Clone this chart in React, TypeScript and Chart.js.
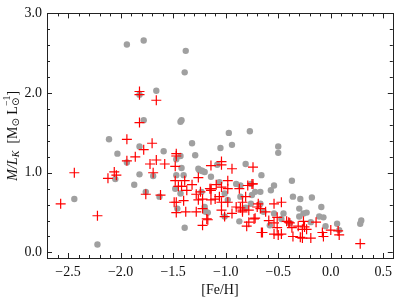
import React, { useEffect, useRef } from "react";
import { Chart, registerables } from "chart.js";

Chart.register(...registerables);

const grayX = [-1.94,-1.78,-1.38,-1.39,-1.66,-1.82,-1.78,-1.42,-1.43,-2.11,-1.82,-1.32,-1.59,-2.03,-0.97,-0.77,-1.05,-0.94,-0.50,-0.50,-1.29,-1.94,-1.82,-1.87,-2.05,-1.76,-1.69,-1.63,-2.44,-2.22,-1.39,-1.47,-1.43,-1.42,-1.47,-1.40,-1.43,-1.46,-1.23,-1.14,-1.20,-1.17,-0.81,-0.66,-0.37,-0.54,-0.57,-0.36,-0.18,-0.29,-0.09,-0.26,-0.11,-0.07,0.06,0.08,0.29,0.28,-0.19,-0.05,-1.06,-0.90,-0.86,-0.72,-0.67,-0.86,-0.98,-0.76,-0.67,-0.54,-0.45,-0.64,-0.87,-1.01,-1.25,-1.22,-1.08,-1.48,-1.23,-1.19,-0.76,-0.75,-1.01,-0.47,-0.58,-0.81,-0.30,-0.23,-0.30,-0.39,-1.26,-1.20];
const grayY = [2.61,2.66,2.53,2.26,2.03,1.98,1.66,1.66,1.64,1.42,1.33,1.37,1.27,1.24,1.50,1.52,1.31,1.35,1.33,1.25,1.22,1.13,0.98,0.85,0.92,0.76,0.96,0.70,0.67,0.10,0.31,1.17,1.21,1.06,0.97,0.97,0.74,0.55,1.03,0.95,0.57,0.50,1.11,0.97,0.90,0.84,0.78,0.70,0.69,0.67,0.57,0.49,0.45,0.44,0.36,0.28,0.40,0.36,0.38,0.33,0.88,0.86,0.84,0.76,0.76,0.70,0.66,0.61,0.61,0.49,0.49,0.51,0.39,0.45,1.03,1.02,1.10,0.80,0.76,0.51,0.86,0.72,0.74,0.42,0.34,0.56,0.55,0.50,0.45,0.37,1.05,1.01];

const redX = [-1.82,-1.82,-1.66,-1.82,-1.94,-1.70,-1.78,-1.47,-1.47,-1.94,-1.86,-1.66,-1.72,-1.58,-1.48,-2.44,-2.06,-2.04,-2.12,-1.69,-1.26,-1.14,-1.48,-1.39,-1.45,-1.42,-1.32,-1.37,-1.09,-1.28,-1.24,-1.14,-1.76,-1.62,-2.57,-1.49,-1.47,-1.40,-1.26,-1.22,-1.14,-1.47,-1.38,-1.28,-1.22,-1.17,-1.22,-2.22,-1.04,-0.94,-0.74,-0.98,-1.14,-1.04,-0.79,-0.74,-1.06,-1.04,-0.90,-0.86,-0.78,-0.70,-0.54,-0.47,-1.04,-0.94,-0.84,-0.62,-0.51,-1.18,-0.78,-0.80,-0.72,-0.65,-0.54,-0.51,-0.54,-0.50,-0.39,-0.36,-0.37,-0.26,-0.27,-0.25,-0.29,-0.19,-0.14,-0.07,0.00,0.08,0.28,-1.15,-1.10,-1.04,-0.75,-0.98,-0.87,-0.81,-0.98,-0.69,-0.84,-0.84,-0.67,-1.01,-0.73,-0.59,-0.42,-0.66,-0.47,-0.40,-0.31,-0.23,-0.27,-0.08,0.07];
const redY = [2.02,1.98,1.91,1.63,1.42,1.37,1.29,1.24,1.21,1.15,1.20,1.16,1.11,1.11,1.08,1.00,1.01,0.97,0.93,1.00,0.94,1.09,0.90,0.90,0.83,0.83,0.85,0.78,0.85,0.73,0.76,0.78,0.73,0.72,0.61,0.63,0.63,0.65,0.66,0.67,0.66,0.50,0.51,0.51,0.55,0.41,0.34,0.46,1.14,1.05,1.07,0.90,0.80,0.82,0.84,0.86,0.70,0.63,0.57,0.56,0.53,0.57,0.61,0.63,0.53,0.49,0.51,0.51,0.44,0.42,0.38,0.33,0.43,0.25,0.37,0.31,0.23,0.22,0.37,0.20,0.31,0.39,0.29,0.32,0.19,0.18,0.38,0.20,0.28,0.22,0.11,0.80,0.67,1.10,0.86,0.80,0.80,0.70,0.63,0.61,0.63,0.53,0.55,0.45,0.42,0.40,0.39,0.25,0.23,0.38,0.33,0.29,0.18,0.25,0.27];

const xTicks = [-2.5, -2.0, -1.5, -1.0, -0.5, 0.0, 0.5];
const yTicks = [0.0, 1.0, 2.0, 3.0];

const FONT = "Liberation Serif";

const fmt = (v: number) => (v < -1e-9 ? "\u2212" + Math.abs(v).toFixed(1) : Math.abs(v).toFixed(1));

const framePlugin = {
  id: "frame",
  afterDraw(chart: any) {
    const { ctx, chartArea: a, scales } = chart;
    const xs = scales.x, ys = scales.y;
    ctx.save();
    ctx.strokeStyle = "#222";
    ctx.lineWidth = 1;
    ctx.strokeRect(Math.round(a.left) + 0.5, Math.round(a.top) + 0.5, Math.round(a.right - a.left), Math.round(a.bottom - a.top));
    ctx.beginPath();
    for (let i = -27; i <= 5; i++) {
      const v = i / 10;
      const px = Math.round(xs.getPixelForValue(v)) + 0.5;
      const major = i % 5 === 0;
      const len = major ? 5 : 3;
      ctx.moveTo(px, a.bottom); ctx.lineTo(px, a.bottom - len);
      ctx.moveTo(px, a.top); ctx.lineTo(px, a.top + len);
    }
    for (let i = 0; i <= 15; i++) {
      const v = i / 5;
      const py = Math.round(ys.getPixelForValue(v)) + 0.5;
      const major = i % 5 === 0;
      const len = major ? 5 : 3;
      ctx.moveTo(a.left, py); ctx.lineTo(a.left + len, py);
      ctx.moveTo(a.right, py); ctx.lineTo(a.right - len, py);
    }
    ctx.stroke();

    // x title
    ctx.fillStyle = "#111";
    ctx.font = `14px "${FONT}"`;
    ctx.textAlign = "center";
    ctx.textBaseline = "alphabetic";
    ctx.fillText("[Fe/H]", (a.left + a.right) / 2, 294);

    // y title
    const segs = [
      { t: "M/L", f: `italic 14px "${FONT}"`, dy: 0 },
      { t: "K", f: `italic 10px "${FONT}"`, dy: 3 },
      { t: "  [M", f: `14px "${FONT}"`, dy: 0 },
      { t: "\u2299", f: `10px "DejaVu Sans"`, dy: 3 },
      { t: " L", f: `14px "${FONT}"`, dy: 0 },
      { t: "\u2299", f: `10px "DejaVu Sans"`, dy: 3 },
      { t: "\u22121", f: `10px "${FONT}"`, dy: -6 },
      { t: "]", f: `14px "${FONT}"`, dy: 0 },
    ];
    ctx.textBaseline = "middle";
    let total = 0;
    const widths = segs.map((s) => { ctx.font = s.f; return ctx.measureText(s.t).width; });
    segs.forEach((s, i) => { if (i !== 5) total += widths[i]; });
    ctx.translate(13, (a.top + a.bottom) / 2);
    ctx.rotate(-Math.PI / 2);
    ctx.textAlign = "left";
    let x = -total / 2;
    segs.forEach((s, i) => {
      ctx.font = s.f;
      ctx.fillText(s.t, x, s.dy);
      if (i !== 5) x += widths[i];
    });
    ctx.restore();
  },
};

export default function App() {
  const ref = useRef<HTMLCanvasElement>(null);
  useEffect(() => {
    document.body.style.margin = "0";
    const red = redX.map((x, i) => ({ x, y: redY[i] }));
    const gray = grayX.map((x, i) => ({ x, y: grayY[i] }));
    const chart = new Chart(ref.current!, {
      type: "scatter",
      data: {
        datasets: [
          { label: "red", data: red, pointStyle: "cross", radius: 5, borderColor: "rgb(255,0,0)", borderWidth: 1.2, backgroundColor: "rgb(255,0,0)" },
          { label: "gray", data: gray, pointStyle: "circle", radius: 3.2, backgroundColor: "rgb(160,160,160)", borderWidth: 0 },
        ],
      },
      options: {
        animation: false,
        responsive: false,
        events: [],
        layout: { padding: { top: 5, right: 1, left: 0, bottom: 0 } },
        plugins: { legend: { display: false }, tooltip: { enabled: false } },
        scales: {
          x: {
            type: "linear",
            min: -2.7,
            max: 0.59,
            grid: { display: false, drawTicks: false },
            border: { display: false },
            afterBuildTicks: (s: any) => { s.ticks = xTicks.map((v) => ({ value: v })); },
            afterFit: (s: any) => { s.height = 41; },
            ticks: { padding: 6, color: "#111", font: { family: FONT, size: 14 }, maxRotation: 0, callback: (v: any) => fmt(Number(v)) },
          },
          y: {
            type: "linear",
            min: -0.07,
            max: 3.0,
            grid: { display: false, drawTicks: false },
            border: { display: false },
            afterBuildTicks: (s: any) => { s.ticks = yTicks.map((v) => ({ value: v })); },
            afterFit: (s: any) => { s.width = 47; },
            ticks: { padding: 5, color: "#111", font: { family: FONT, size: 14 }, callback: (v: any) => fmt(Number(v)) },
          },
        },
      },
      plugins: [framePlugin],
    });
    return () => chart.destroy();
  }, []);
  return (
    <div style={{ width: 399, height: 299 }}>
      <canvas ref={ref} width={399} height={299} />
    </div>
  );
}
